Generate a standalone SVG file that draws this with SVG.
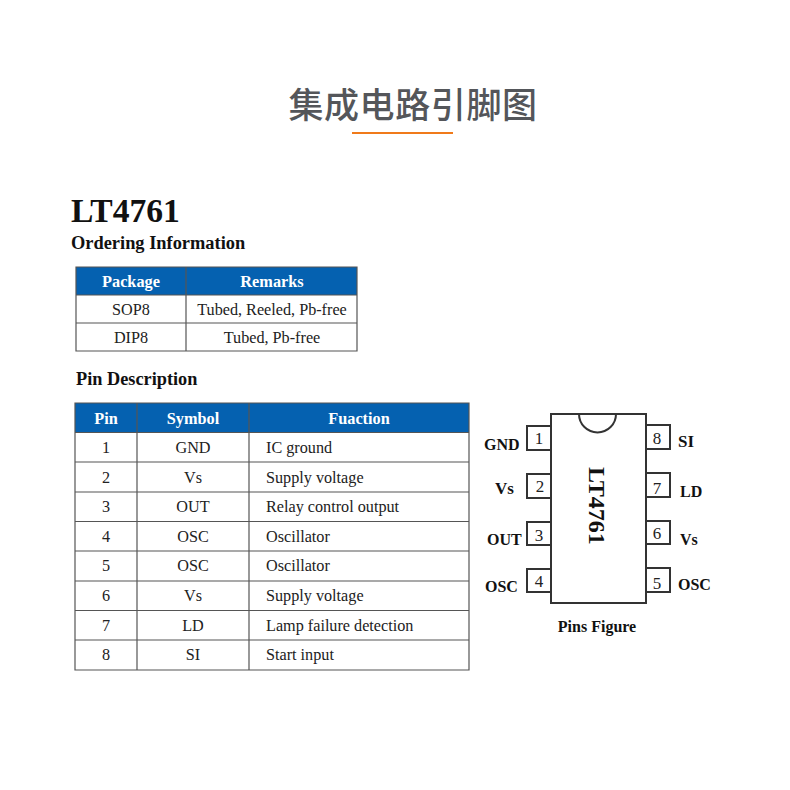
<svg xmlns="http://www.w3.org/2000/svg" width="790" height="790" viewBox="0 0 790 790">
<style>
.s{font-family:"Liberation Serif","Times New Roman",serif;fill:#222;font-size:16.200px}
.c{text-anchor:middle}
.b{font-weight:700;fill:#111}
.h{font-weight:700;fill:#fff;font-size:16.300px;text-anchor:middle}
.g{fill:none;stroke:#555;stroke-width:1.200}
.d{fill:none;stroke:#333;stroke-width:2}
.n{font-size:17px}
.l{font-size:16px}
</style>
<rect width="790" height="790" fill="#fff"/>
<g id="title">
<text x="413" y="118" text-anchor="middle" font-family="'Noto Sans CJK SC','Noto Sans',sans-serif" font-size="35" font-weight="500" letter-spacing="0.6" fill="#54565a">集成电路引脚图</text>
<rect x="352" y="132" width="101" height="2" fill="#f07a1a"/>
</g>
<g id="heading">
<text x="71" y="222" class="s b" style="font-size:33.600px">LT4761</text>
<text x="71" y="249" class="s b" style="font-size:18.400px">Ordering Information</text>
<text x="76" y="385" class="s b" style="font-size:18.300px">Pin Description</text>
</g>
<g id="ordering-table">
<rect x="76" y="267" width="281" height="28" fill="#0561b0"/>
<path class="g" d="M76 267H357V351H76ZM76 295H357M76 323H357M186 267V351"/>
<text x="131" y="287" class="s h">Package</text>
<text x="272" y="287" class="s h">Remarks</text>
<text x="131" y="315" class="s c">SOP8</text>
<text x="272" y="315" class="s c">Tubed, Reeled, Pb-free</text>
<text x="131" y="343" class="s c">DIP8</text>
<text x="272" y="343" class="s c">Tubed, Pb-free</text>
</g>
<g id="pin-table">
<rect x="75" y="403" width="394" height="29.500" fill="#0561b0"/>
<path class="g" d="M75 403H469V670H75ZM75 432.500H469M75 462H469M75 492H469M75 521.500H469M75 551H469M75 581H469M75 610.500H469M75 640H469M137 403V670M249 403V670"/>
<text x="106" y="424" class="s h">Pin</text><text x="193" y="424" class="s h">Symbol</text><text x="359" y="424" class="s h">Fuaction</text>
<text x="106" y="453" class="s c">1</text><text x="193" y="453" class="s c">GND</text><text x="266" y="453" class="s">IC ground</text>
<text x="106" y="483" class="s c">2</text><text x="193" y="483" class="s c">Vs</text><text x="266" y="483" class="s">Supply voltage</text>
<text x="106" y="512" class="s c">3</text><text x="193" y="512" class="s c">OUT</text><text x="266" y="512" class="s">Relay control output</text>
<text x="106" y="542" class="s c">4</text><text x="193" y="542" class="s c">OSC</text><text x="266" y="542" class="s">Oscillator</text>
<text x="106" y="571" class="s c">5</text><text x="193" y="571" class="s c">OSC</text><text x="266" y="571" class="s">Oscillator</text>
<text x="106" y="601" class="s c">6</text><text x="193" y="601" class="s c">Vs</text><text x="266" y="601" class="s">Supply voltage</text>
<text x="106" y="631" class="s c">7</text><text x="193" y="631" class="s c">LD</text><text x="266" y="631" class="s">Lamp failure detection</text>
<text x="106" y="660" class="s c">8</text><text x="193" y="660" class="s c">SI</text><text x="266" y="660" class="s">Start input</text>
</g>
<g id="chip">
<path class="d" d="M551 426H527V450H551M551 474H527V498H551M551 522H527V545H551M551 569H527V592H551M646 425H670V449H646M646 473H670V497H646M646 521H670V544H646M646 568H670V592H646"/>
<rect x="551" y="414" width="95" height="189" fill="none" stroke="#333" stroke-width="2"/>
<path class="d" d="M579 414A18.500 18.500 0 0 0 616 414"/>
<text transform="translate(589 467) rotate(90)" class="s b" style="font-size:24px">LT4761</text>
</g>
<g id="pin-labels">
<text x="539" y="444" class="s c n">1</text><text x="540" y="492" class="s c n">2</text><text x="539" y="541" class="s c n">3</text><text x="539" y="587" class="s c n">4</text>
<text x="657" y="589" class="s c n">5</text><text x="657" y="539" class="s c n">6</text><text x="657" y="494" class="s c n">7</text><text x="657" y="444" class="s c n">8</text>
<text x="484" y="450" class="s b l">GND</text><text x="495" y="494" class="s b" style="font-size:17px">Vs</text><text x="487" y="545" class="s b l">OUT</text><text x="485" y="592" class="s b l">OSC</text>
<text x="678" y="447" class="s b" style="font-size:17px">SI</text><text x="680" y="497" class="s b l">LD</text><text x="680" y="545" class="s b l">Vs</text><text x="678" y="590" class="s b l">OSC</text>
<text x="597" y="632" class="s b c l">Pins Figure</text>
</g>
</svg>
